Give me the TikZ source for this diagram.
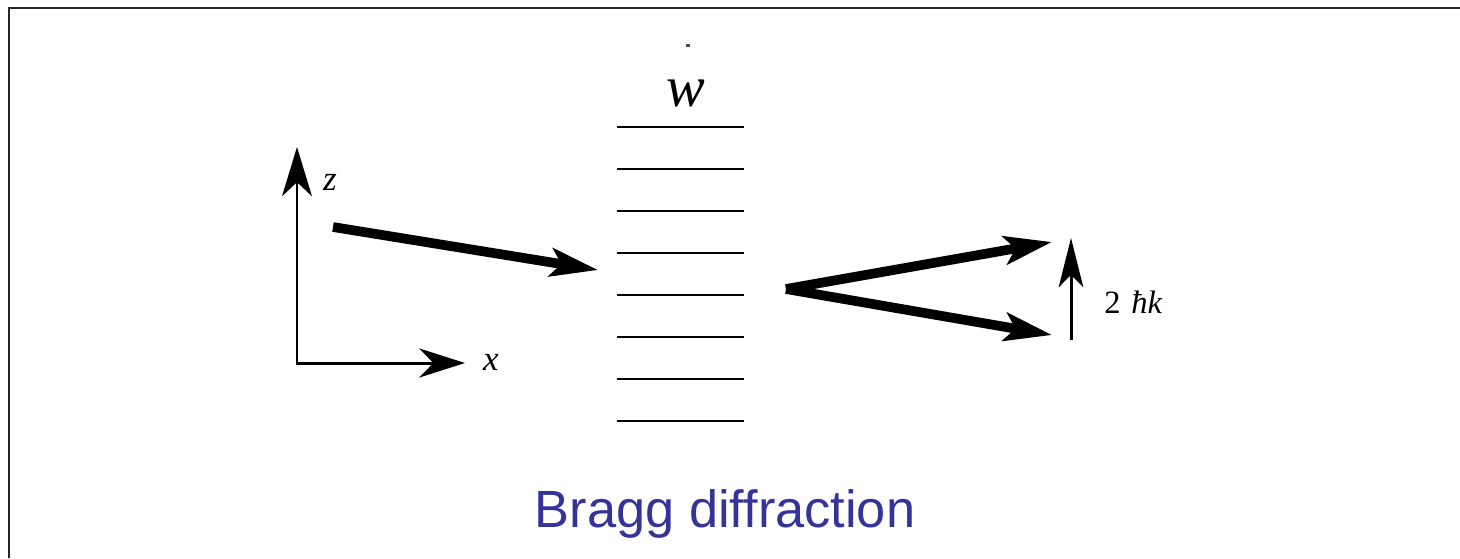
\documentclass[tikz,border=0pt]{standalone}
\usepackage{fontspec}
\setmainfont{Liberation Serif}
\newfontfamily\captionfont{Liberation Sans}
\usetikzlibrary{arrows.meta}
\definecolor{CaptionBlue}{HTML}{333399}
\tikzset{
  beam/.style={line width=5.5pt,
    -{Stealth[length=27pt,width=16pt,inset=6pt]}},
  axes/.style={line width=1.7pt,
    {Stealth[length=28pt,width=17pt,inset=8pt]}-{Stealth[length=26pt,width=16.5pt,inset=8pt]}},
  kick/.style={line width=1.7pt,
    -{Stealth[length=28pt,width=14pt,inset=7pt]}},
  plane/.style={line width=0.8pt},
  axlabel/.style={font=\fontsize{20}{24}\selectfont\itshape,inner sep=0pt},
}

\begin{document}
\begin{tikzpicture}[x=0.02cm,y=-0.02cm]
  \useasboundingbox (0,0) rectangle (1460,558);
  \draw[line width=1.7pt,black!85] (9,558) -- (9,8) -- (1460,8);
  % lattice planes
  \foreach \i in {0,...,7}
    \draw[plane] (617,127+\i*42) -- (744,127+\i*42);
  \fill[black!70] (686,44) rectangle (690,46.5);
  \node[inner sep=0pt,font=\fontsize{33}{38}\selectfont\itshape] (wlab) at (686,93) {w};
  % axes
  \coordinate (O) at (297,363);
  \coordinate (ztip) at (297,147);
  \coordinate (xtip) at (465,363);
  \draw[axes] (ztip) -- (O) -- (xtip);
  \node[axlabel] (zlab) at (330,182) {z};
  \node[axlabel] (xlab) at (491,362) {x};
  % beams
  \coordinate (inS) at (333,227);
  \coordinate (inE) at (598,270);
  \coordinate (hit) at (786,289);
  \coordinate (up) at (1052,242);
  \coordinate (dn) at (1052,335);
  \draw[beam] (inS) -- (inE);
  \draw[beam] (hit) -- (up);
  \draw[beam] (hit) -- (dn);
  % momentum transfer
  \coordinate (kS) at (1071,340);
  \coordinate (kE) at (1071,238);
  \draw[kick] (kS) -- (kE);
  \node[anchor=base west,inner sep=0pt,font=\fontsize{18.5}{22}\selectfont] (klab) at (1104,313) {2\,\,\textit{ħk}};
  \node[anchor=base,inner sep=0pt,text=CaptionBlue,font=\captionfont\fontsize{29.8}{35}\selectfont] (title) at (725,527) {Bragg diffraction};
\end{tikzpicture}
\end{document}
